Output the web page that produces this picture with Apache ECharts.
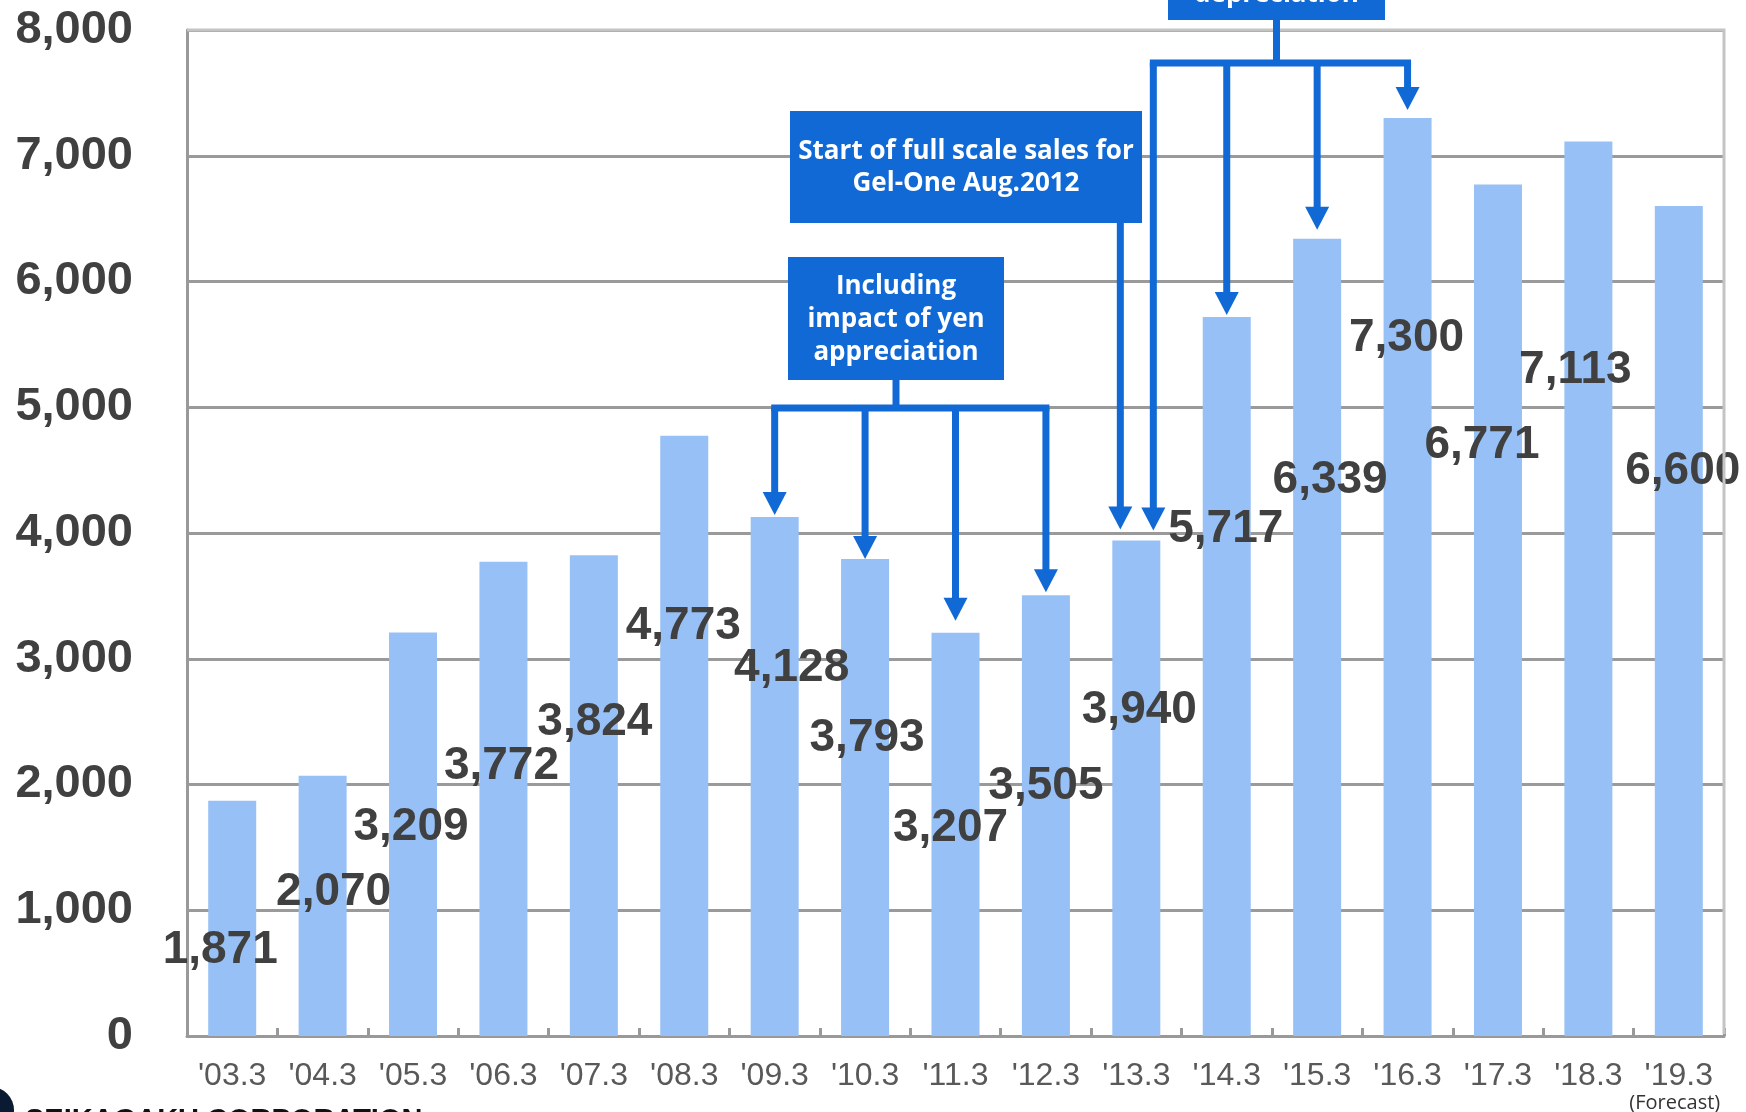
<!DOCTYPE html>
<html><head><meta charset="utf-8">
<script src="https://cdn.jsdelivr.net/npm/echarts@6/dist/echarts.min.js"></script>
<style>html,body{margin:0;padding:0;background:#fff;overflow:hidden}#c{width:1746px;height:1112px}</style>
</head><body><div id="c"></div>
<script>
// ---- data ----
const categories = ["'03.3","'04.3","'05.3","'06.3","'07.3","'08.3","'09.3","'10.3","'11.3","'12.3","'13.3","'14.3","'15.3","'16.3","'17.3","'18.3","'19.3"];
const sales = [1871,2070,3209,3772,3824,4773,4128,3793,3207,3505,3940,5717,6339,7300,6771,7113,6600];
const yMin = 0, yMax = 8000, yInterval = 1000;
const forecastNote = "(Forecast)";
const companyName = "SEIKAGAKU CORPORATION";
const noteYenLines = ["Including","impact of yen","appreciation"];
const noteYenTargets = [6,7,8,9];
const noteGelLines = ["Start of full scale sales for","Gel-One Aug.2012"];
const noteGelTargets = [10];
const noteDepLines = ["depreciation"];
const noteDepTargets = [10,11,12,13];

// ---- styling (label placement offsets relative to bar top) ----
const labelDx = [-12,11,-2,-2,1,-1,17,2,-5,0,3,-1,13,-1,-16,-13,4];
const labelDy = [150,117,195,205,167,191,151,179,196,191,170,212,241,220,261,229,265];

const BLUE = '#1069d4';
const GRID = {left:187, right:22, top:30, bottom:76};

const chart = echarts.init(document.getElementById('c'), null, {renderer:'canvas'});

const barData = sales.map((v,i)=>({
  value:v,
  label:{position:['50%', labelDy[i]], offset:[labelDx[i],0]}
}));

chart.setOption({
  animation:false,
  backgroundColor:'#fff',
  grid:GRID,
  xAxis:{
    type:'category', data:categories,
    axisLine:{show:true,lineStyle:{color:'#999',width:3}},
    axisTick:{show:true,inside:true,length:8,alignWithLabel:false,interval:0,lineStyle:{color:'#999',width:3}},
    axisLabel:{fontFamily:'Liberation Sans, Arial, sans-serif',fontSize:32,color:'#595959',margin:24,interval:0},
    splitLine:{show:false}
  },
  yAxis:{
    type:'value', min:yMin, max:yMax, interval:yInterval,
    axisLine:{show:true,lineStyle:{color:'#999',width:3}},
    axisTick:{show:false},
    axisLabel:{fontFamily:'Liberation Sans, Arial, sans-serif',fontWeight:'bold',fontSize:47,color:'#404040',margin:54,
      formatter:v=>v.toLocaleString('en-US')},
    splitLine:{show:true,lineStyle:{color:'#9a9a9a',width:3}}
  },
  series:[{
    type:'bar', data:barData, barWidth:48,
    itemStyle:{color:'#96c0f6'},
    label:{show:true,align:'center',verticalAlign:'middle',
      fontFamily:'Liberation Sans, Arial, sans-serif',fontWeight:'bold',fontSize:46,color:'#404040',
      formatter:p=>p.value.toLocaleString('en-US')},
    z:2
  }]
});

function px(i,v){ return chart.convertToPixel({xAxisIndex:0,yAxisIndex:0},[i,v]); }

const g = [];
const LW = 7;
function seg(x1,y1,x2,y2){
  g.push({type:'line',z:10,shape:{x1,y1,x2,y2},style:{stroke:BLUE,lineWidth:LW}});
}
function arrow(x,y0,tip){
  seg(x,y0,x,tip-20);
  g.push({type:'polygon',z:10,shape:{points:[[x-12,tip-23],[x+12,tip-23],[x,tip]]},style:{fill:BLUE}});
}
function box(x,y,w,h){
  g.push({type:'rect',z:10,shape:{x:x,y:y,width:w,height:h},style:{fill:BLUE}});
}
function boxText(cx,cys,lines,fs){
  lines.forEach((t,k)=>{
    g.push({type:'text',z:11,style:{text:t,x:cx,y:cys[k],align:'center',verticalAlign:'middle',
      font:'bold '+fs+'px "Open Sans", "Noto Sans", sans-serif',fill:'#fff'}});
  });
}

// Grid top/right border (lighter)
const pTop = px(0,yMax), pBot = px(0,yMin);
const rightX = 1746-GRID.right;
g.push({type:'polyline',z:5,shape:{points:[[GRID.left,pTop[1]],[rightX,pTop[1]],[rightX,pBot[1]-2]]},style:{stroke:'#c4c4c4',lineWidth:3,fill:null}});

// Box 1: yen appreciation
{
  const bx=788, by=257, bw=216, bh=123;
  box(bx,by,bw,bh);
  const cx = bx+bw/2;
  boxText(cx,[287,320,353],noteYenLines,26);
  const hy = 408;
  seg(cx,by+bh,cx,hy);
  const gaps=[2,0,12,3];
  const xs = noteYenTargets.map(i=>px(i,0)[0]);
  seg(xs[0]-3.5,hy,xs[xs.length-1]+3.5,hy);
  noteYenTargets.forEach((i,k)=>{ arrow(xs[k],hy,px(i,sales[i])[1]-gaps[k]); });
}
// Box 2: Gel-One
{
  const bx=790, by=111, bw=352, bh=112;
  box(bx,by,bw,bh);
  boxText(bx+bw/2,[152,184],noteGelLines,26);
  const i = noteGelTargets[0];
  const p = px(i,sales[i]);
  arrow(p[0]-16,by+bh,p[1]-11);
}
// Box 3: depreciation (top, partially off canvas)
{
  const bx=1168, by=-140, bw=217, bh=160;
  box(bx,by,bw,bh);
  const cx = bx+bw/2;
  boxText(cx,[-5],noteDepLines,26);
  const hy = 63;
  seg(cx,by+bh,cx,hy);
  const dxs=[17,0,0,0], gaps=[10,2,9,8];
  const xs = noteDepTargets.map((i,k)=>px(i,0)[0]+dxs[k]);
  seg(xs[0]-3.5,hy,xs[xs.length-1]+3.5,hy);
  noteDepTargets.forEach((i,k)=>{ arrow(xs[k],hy,px(i,sales[i])[1]-gaps[k]); });
}

// Forecast note under last category
{
  const p = px(categories.length-1,0);
  g.push({type:'text',z:11,style:{text:forecastNote,x:p[0]-4,y:1103,align:'center',verticalAlign:'middle',
    font:'20px "Open Sans", "Noto Sans", sans-serif',fill:'#333'}});
}
// Company logo/name at bottom-left (cut off)
g.push({type:'circle',z:11,shape:{cx:-9,cy:1110,r:23},style:{fill:'#0b1a33'}});
g.push({type:'text',z:11,style:{text:companyName,x:25,y:1121,align:'left',verticalAlign:'middle',
  font:'bold 29px "Liberation Sans", Arial, sans-serif',fill:'#111'}});

chart.setOption({graphic:g});
</script>
</body></html>
